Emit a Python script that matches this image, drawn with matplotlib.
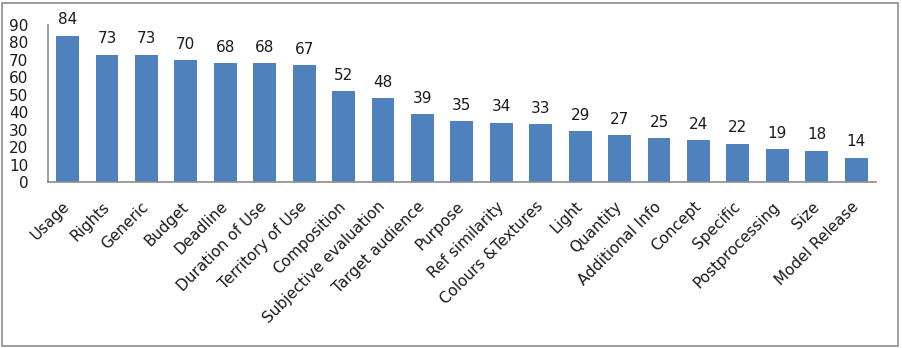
import matplotlib
matplotlib.use("Agg")
from matplotlib import pyplot as plt
import numpy as np

categories = ["Usage", "Rights", "Generic", "Budget", "Deadline", "Duration of Use",
              "Territory of Use", "Composition", "Subjective evaluation", "Target audience",
              "Purpose", "Ref similarity", "Colours &Textures", "Light", "Quantity",
              "Additional Info", "Concept", "Specific", "Postprocessing", "Size",
              "Model Release"]
values = [84, 73, 73, 70, 68, 68, 67, 52, 48, 39, 35, 34, 33, 29, 27, 25, 24, 22, 19, 18, 14]
y_ticks = list(range(0, 100, 10))

plt.rcParams['font.family'] = ['DejaVu Sans']

fig = plt.figure(figsize=(9.03, 3.48), dpi=100)
ax = fig.add_axes([0.053, 0.477, 0.917, 0.451])

x = np.arange(len(categories))
bars = ax.bar(x, values, width=0.58, color='#4F81BD')

for xi, v in zip(x, values):
    ax.annotate(str(v), (xi, v), xytext=(0, 6), textcoords='offset points',
                ha='center', va='bottom', fontsize=11, color='#1a1a1a')

ax.set_xlim(-0.5, len(categories) - 0.5)
ax.set_ylim(0, 90)
ax.set_yticks(y_ticks)
ax.set_yticklabels([str(t) for t in y_ticks], fontsize=11, color='#1a1a1a')
ax.set_xticks(x)
ax.set_xticklabels(categories, rotation=45, ha='right', va='center',
                   rotation_mode='anchor', fontsize=11, color='#1a1a1a')
ax.tick_params(axis='both', length=0)
ax.tick_params(axis='x', pad=16)
ax.tick_params(axis='y', pad=14)

for s in ['top', 'right']:
    ax.spines[s].set_visible(False)
for s in ['left', 'bottom']:
    ax.spines[s].set_color('#8c8c8c')
    ax.spines[s].set_linewidth(1.2)

# outer chart border
fig.patches.append(plt.Rectangle((0.002, 0.006), 0.992, 0.984, transform=fig.transFigure,
                                 fill=False, edgecolor='#8c8c8c', linewidth=1.2))

fig.savefig('out.png', dpi=100)
